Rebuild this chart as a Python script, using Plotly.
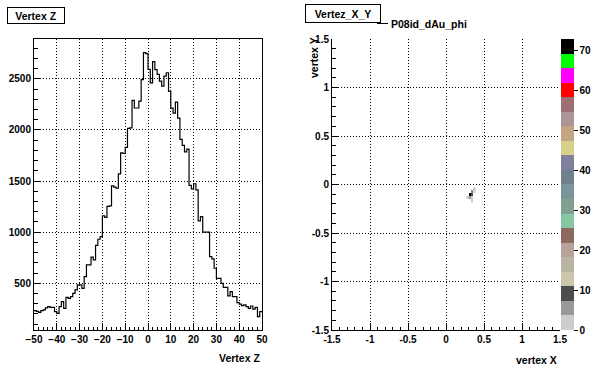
import plotly.graph_objects as go

# ---------------- data ----------------
vz_lo, vz_hi = -50, 50
vz_counts = [
    232, 225, 216, 232, 240, 260, 271, 265, 265, 222,
    206, 271, 320, 255, 363, 353, 370, 402, 435, 484,
    484, 450, 565, 680, 680, 755, 730, 870, 931, 957,
    1160, 1144, 1252, 1258, 1454, 1440, 1430, 1570, 1776, 1770,
    1830, 2015, 2020, 2290, 2215, 2215, 2283, 2493, 2757, 2747,
    2592, 2460, 2668, 2590, 2543, 2477, 2428, 2526, 2560, 2378,
    2214, 2164, 2273, 2115, 1908, 1850, 1786, 1812, 1457, 1424,
    1474, 1414, 1111, 1153, 1000, 1000, 1000, 761, 738, 647,
    549, 549, 500, 461, 461, 376, 418, 369, 369, 310,
    297, 281, 288, 271, 255, 278, 248, 265, 173, 222,
]
vz_x_ticks = [-50, -40, -30, -20, -10, 0, 10, 20, 30, 40, 50]
vz_y_ticks = [500, 1000, 1500, 2000, 2500]

xy_x_edges = [0.27, 0.30, 0.33, 0.36, 0.39]
xy_y_edges = [-0.18, -0.15, -0.12, -0.09, -0.06, -0.03]
xy_counts = [
    [None, None, 2, None],
    [2, 5, 2, None],
    [None, 72, 9, None],
    [None, None, 36, 2],
    [None, None, None, 2],
]
xy_ticks = [-1.5, -1, -0.5, 0, 0.5, 1, 1.5]
xy_ticktext = ["-1.5", "-1", "-0.5", "0", "0.5", "1", "1.5"]
cb_ticks = [0, 10, 20, 30, 40, 50, 60, 70]
z_max = 73

palette = ["#cccccc", "#999999", "#4c4c4c", "#ccc6aa", "#bab5a3", "#b8a29b",
           "#8c6b5e", "#86c7a3", "#82a090", "#7b9499", "#70808b", "#80809e",
           "#d8d18a", "#c3a586", "#ad9495", "#9c6f72", "#ff0000", "#ff00ff",
           "#00ff00", "#000000"]

# ---------------- helpers ----------------
W, H = 596, 372
def fx(p):
    return p / W
def fy(p):
    return 1 - p / H

FONT = "Liberation Sans"
tf = dict(family=FONT, size=10, color="black", weight="bold")

n = len(vz_counts)
bw = (vz_hi - vz_lo) / n
step_x = [vz_lo + i * bw for i in range(n)] + [vz_hi]
step_y = vz_counts + [vz_counts[-1]]

cs = []
for i, c in enumerate(palette):
    cs.append([i / len(palette), c])
    cs.append([(i + 1) / len(palette), c])

fig = go.Figure()
fig.add_trace(go.Scatter(x=step_x, y=step_y, mode="lines", line_shape="hv",
                         line=dict(color="black", width=1.2),
                         xaxis="x", yaxis="y", hoverinfo="skip"))
fig.add_trace(go.Heatmap(x=xy_x_edges, y=xy_y_edges, z=xy_counts,
                         zmin=0, zmax=z_max, colorscale=cs, hoverongaps=False,
                         xaxis="x2", yaxis="y2",
                         colorbar=dict(x=fx(561), xanchor="left", y=fy(184.5), yanchor="middle",
                                       len=291, lenmode="pixels", thickness=13,
                                       thicknessmode="pixels", outlinewidth=0, xpad=0, ypad=0,
                                       tickvals=cb_ticks, ticks="outside", ticklen=4,
                                       tickcolor="black", tickfont=tf)))

grid = dict(showgrid=True, gridcolor="black", griddash="1px,2px", gridwidth=1,
            zeroline=False, showline=True, linecolor="black", linewidth=1,
            ticks="inside", tickcolor="black", tickfont=tf, ticklen=7)

fig.update_layout(
    width=W, height=H, margin=dict(l=0, r=0, t=0, b=0, autoexpand=False),
    paper_bgcolor="white", plot_bgcolor="white", showlegend=False,
    xaxis=dict(domain=[fx(34), fx(262)], range=[vz_lo, vz_hi], anchor="y",
               tickvals=vz_x_ticks, mirror=True, automargin=False,
               minor=dict(dtick=2, ticks="inside", ticklen=3.5, tickcolor="black", showgrid=False),
               **grid),
    yaxis=dict(domain=[fy(330), fy(39)], range=[43, 2890], anchor="x",
               tickvals=vz_y_ticks, mirror=True, automargin=False,
               minor=dict(dtick=100, ticks="inside", ticklen=3.5, tickcolor="black", showgrid=False),
               **grid),
    xaxis2=dict(domain=[fx(332), fx(560)], range=[-1.5, 1.5], anchor="y2",
                tickvals=xy_ticks, ticktext=xy_ticktext, mirror=False, automargin=False,
                minor=dict(dtick=0.1, ticks="inside", ticklen=3.5, tickcolor="black", showgrid=False),
                **grid),
    yaxis2=dict(domain=[fy(330), fy(39)], range=[-1.5, 1.5], anchor="x2",
                tickvals=xy_ticks, ticktext=xy_ticktext, mirror=False, automargin=False,
                minor=dict(dtick=0.1, ticks="inside", ticklen=3.5, tickcolor="black", showgrid=False),
                **grid),
)

af = dict(family=FONT, size=10.5, color="black", weight="bold")
ann = [
    dict(x=fx(35.5), y=fy(15.7), text="Vertex Z", width=54, height=13,
         bordercolor="black", borderwidth=1, borderpad=1, bgcolor="white"),
    dict(x=fx(343), y=fy(14), text="Vertez_X_Y", width=72, height=15,
         bordercolor="black", borderwidth=1, borderpad=1, bgcolor="white"),
    dict(x=fx(389), y=fy(23.5), text="P08id_dAu_phi", xanchor="left"),
    dict(x=fx(262), y=fy(357.5), text="Vertex Z", xanchor="right"),
    dict(x=fx(559), y=fy(359.5), text="vertex X", xanchor="right"),
    dict(x=fx(314), y=fy(58), text="vertex Y", textangle=-90),
]
for a in ann:
    a.setdefault("xanchor", "center")
    fig.add_annotation(xref="paper", yref="paper", yanchor="middle", showarrow=False,
                       font=af, **a)

fig.add_shape(type="line", xref="paper", yref="paper", x0=fx(377), x1=fx(388),
              y0=fy(23.5), y1=fy(23.5), line=dict(color="black", width=1))

fig.write_html("out.html", config={"displayModeBar": False},
               post_script="document.body.style.margin='0';document.body.style.padding='0';"
                           "document.documentElement.style.overflow='hidden';")
